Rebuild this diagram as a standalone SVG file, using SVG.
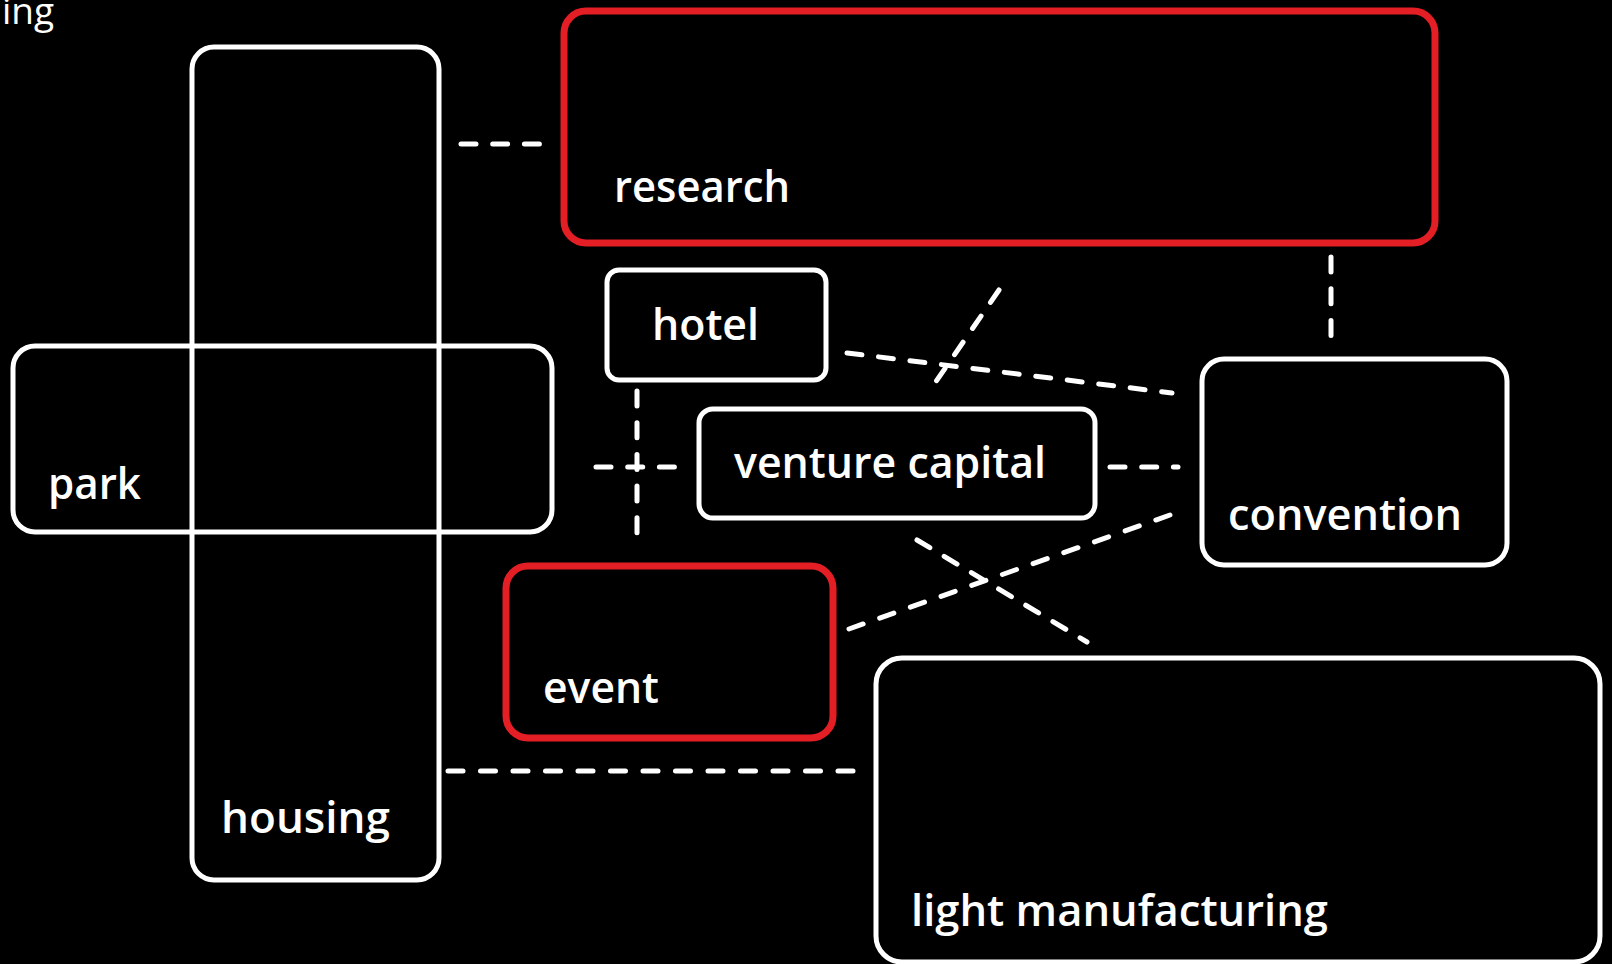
<svg xmlns="http://www.w3.org/2000/svg" width="1612" height="964" viewBox="0 0 1612 964">
<style>
.box{fill:none;stroke:#fff;stroke-width:5}
.red{fill:none;stroke:#e31e24;stroke-width:7}
.lbl{font-family:"Open Sans","Liberation Sans",sans-serif;font-weight:600;font-size:44px;fill:#fff}
.con{fill:none;stroke:#fff;stroke-width:5;stroke-linecap:round;stroke-dasharray:15 16.7}
</style>
<rect width="1612" height="964" fill="#000"/>
<text x="54" y="24" text-anchor="end" style="font-family:'Open Sans','Liberation Sans',sans-serif;font-size:37px;fill:#fff">ing</text>
<g id="connectors">
<line class="con" x1="461" y1="144" x2="548" y2="144"/>
<line class="con" x1="1331" y1="257" x2="1331" y2="340"/>
<line class="con" x1="847" y1="353" x2="1172" y2="393"/>
<line class="con" x1="999" y1="290" x2="935" y2="383"/>
<line class="con" x1="637" y1="391" x2="637" y2="545"/>
<line class="con" x1="596" y1="467" x2="680" y2="467"/>
<line class="con" x1="1110" y1="467" x2="1178" y2="467"/>
<line class="con" x1="849" y1="629" x2="1170" y2="515" style="stroke-dasharray:15 17.56"/>
<line class="con" x1="917" y1="540" x2="1087" y2="642"/>
<line class="con" x1="448" y1="771" x2="853" y2="771" style="stroke-dasharray:15 17.5"/>
</g>
<g id="housing"><rect class="box" x="192" y="47" width="247" height="833" rx="22"/><text class="lbl" x="221" y="833" textLength="169" lengthAdjust="spacingAndGlyphs">housing</text></g>
<g id="park"><rect class="box" x="13" y="346" width="539" height="186" rx="22"/><text class="lbl" x="48" y="499" textLength="93" lengthAdjust="spacingAndGlyphs">park</text></g>
<g id="research"><rect class="red" x="564" y="11" width="871" height="232" rx="22"/><text class="lbl" x="614" y="202" textLength="176" lengthAdjust="spacingAndGlyphs">research</text></g>
<g id="hotel"><rect class="box" x="607" y="270" width="219" height="110" rx="12"/><text class="lbl" x="652" y="340" textLength="107" lengthAdjust="spacingAndGlyphs">hotel</text></g>
<g id="venture-capital"><rect class="box" x="699" y="409" width="396" height="109" rx="14"/><text class="lbl" x="734" y="478" textLength="312" lengthAdjust="spacingAndGlyphs">venture capital</text></g>
<g id="convention"><rect class="box" x="1202" y="359" width="305" height="206" rx="22"/><text class="lbl" x="1228" y="530" textLength="234" lengthAdjust="spacingAndGlyphs">convention</text></g>
<g id="event"><rect class="red" x="506" y="566" width="327" height="172" rx="22"/><text class="lbl" x="543" y="703" textLength="116" lengthAdjust="spacingAndGlyphs">event</text></g>
<g id="light-manufacturing"><rect class="box" x="876" y="658" width="724" height="304" rx="26"/><text class="lbl" x="911" y="926" textLength="417" lengthAdjust="spacingAndGlyphs">light manufacturing</text></g>
</svg>
